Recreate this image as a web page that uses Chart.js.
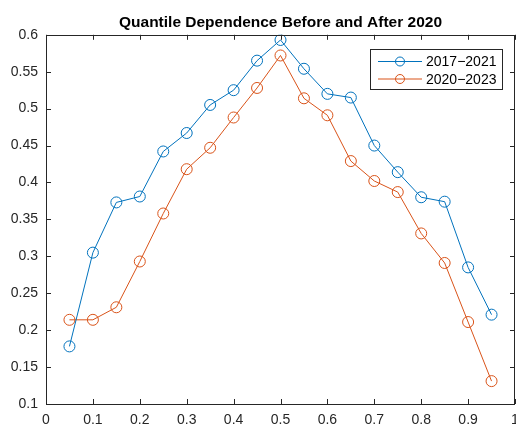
<!DOCTYPE html>
<html lang="en">
<head>
<meta charset="UTF-8">
<title>Quantile Dependence Before and After 2020</title>
<script src="https://cdn.jsdelivr.net/npm/chart.js"></script>
<style>
    html, body { margin: 0; padding: 0; background: #fff; }
    #caixa { width: 516px; height: 428px; }
</style>
</head>
<body>
<div id="caixa"><canvas id="grafico-quantis"></canvas></div>
<script>
    // values
    const quantis = [0.05, 0.10, 0.15, 0.20, 0.25, 0.30, 0.35, 0.40, 0.45, 0.50,
                     0.55, 0.60, 0.65, 0.70, 0.75, 0.80, 0.85, 0.90, 0.95];
    const serie2017 = [0.178, 0.305, 0.373, 0.381, 0.442, 0.467, 0.505, 0.525, 0.565, 0.593,
                       0.554, 0.520, 0.515, 0.450, 0.414, 0.380, 0.374, 0.285, 0.221];
    const serie2020 = [0.214, 0.214, 0.231, 0.293, 0.358, 0.418, 0.447, 0.488, 0.528, 0.572,
                       0.514, 0.491, 0.429, 0.402, 0.387, 0.331, 0.291, 0.211, 0.131];
    const nomesSeries = ['2017\u22122021', '2020\u22122023'];
    const ticksX = [0, 0.1, 0.2, 0.3, 0.4, 0.5, 0.6, 0.7, 0.8, 0.9, 1];
    const ticksY = [0.1, 0.15, 0.2, 0.25, 0.3, 0.35, 0.4, 0.45, 0.5, 0.55, 0.6];

    const corEixo = '#262626';
    const cores = ['#0072BD', '#D95319'];
    const fonte = '"Liberation Sans", Arial, Helvetica, sans-serif';

    function pontos(serie) {
        return quantis.map((q, i) => ({ x: q, y: serie[i] }));
    }

    function formatar(v) {
        return String(+v.toFixed(2));
    }

    // MATLAB style box, inner ticks and legend
    const caixaMatlab = {
        id: 'caixaMatlab',
        afterDraw(chart) {
            const ctx = chart.ctx;
            const a = chart.chartArea;
            const sx = chart.scales.x;
            const sy = chart.scales.y;
            const tam = 5;
            ctx.save();
            ctx.strokeStyle = corEixo;
            ctx.lineWidth = 1;
            ctx.beginPath();
            ticksX.forEach(v => {
                const px = Math.round(sx.getPixelForValue(v)) + 0.5;
                ctx.moveTo(px, a.bottom); ctx.lineTo(px, a.bottom - tam);
                ctx.moveTo(px, a.top); ctx.lineTo(px, a.top + tam);
            });
            ticksY.forEach(v => {
                const py = Math.round(sy.getPixelForValue(v)) + 0.5;
                ctx.moveTo(a.left, py); ctx.lineTo(a.left + tam, py);
                ctx.moveTo(a.right, py); ctx.lineTo(a.right - tam, py);
            });
            ctx.stroke();
            ctx.strokeRect(Math.round(a.left) + 0.5, Math.round(a.top) + 0.5,
                Math.round(a.right - a.left) - 1, Math.round(a.bottom - a.top));

            // legend
            const lx = Math.round(a.right) - 145;
            const ly = Math.round(a.top) + 14;
            const lw = 132, lh = 40;
            ctx.fillStyle = '#fff';
            ctx.fillRect(lx, ly, lw, lh);
            ctx.strokeStyle = corEixo;
            ctx.strokeRect(lx + 0.5, ly + 0.5, lw, lh);
            ctx.font = '14px ' + fonte;
            ctx.textBaseline = 'middle';
            nomesSeries.forEach((nome, i) => {
                const y = ly + 12.5 + i * 17.5;
                ctx.strokeStyle = cores[i];
                ctx.beginPath();
                ctx.moveTo(lx + 8, y); ctx.lineTo(lx + 52, y);
                ctx.stroke();
                ctx.beginPath();
                ctx.arc(lx + 30, y, 4.5, 0, Math.PI * 2);
                ctx.stroke();
                ctx.fillStyle = '#000';
                ctx.fillText(nome, lx + 56, y + 1);
            });
            ctx.restore();
        }
    };

    const conjuntos = [serie2017, serie2020].map((serie, i) => ({
        label: nomesSeries[i],
        data: pontos(serie),
        borderColor: cores[i],
        backgroundColor: 'rgba(0,0,0,0)',
        borderWidth: 1,
        pointRadius: 5.5,
        pointHoverRadius: 5.5,
        pointBorderWidth: 1,
        pointBorderColor: cores[i],
        pointBackgroundColor: 'rgba(0,0,0,0)',
        tension: 0
    }));

    new Chart(document.getElementById('grafico-quantis'), {
        type: 'line',
        data: { datasets: conjuntos },
        options: {
            responsive: true,
            maintainAspectRatio: false,
            animation: false,
            events: [],
            layout: { autoPadding: false, padding: { left: 0, right: 1, top: 0, bottom: 0 } },
            plugins: {
                legend: { display: false },
                tooltip: { enabled: false },
                title: {
                    display: true,
                    fullSize: false,
                    text: 'Quantile Dependence Before and After 2020',
                    color: '#000',
                    font: { family: fonte, size: 15.5, weight: 'bold' },
                    padding: { top: 13, bottom: 3.2 }
                }
            },
            scales: {
                x: {
                    type: 'linear',
                    min: 0,
                    max: 1,
                    afterBuildTicks: s => { s.ticks = ticksX.map(v => ({ value: v })); },
                    afterFit: s => { s.height = 24; s.paddingLeft = 0; s.paddingRight = 0; },
                    grid: { drawOnChartArea: false, drawTicks: false },
                    border: { display: false },
                    ticks: {
                        color: corEixo,
                        font: { family: fonte, size: 14 },
                        padding: 8,
                        maxRotation: 0,
                        autoSkip: false,
                        callback: v => formatar(v)
                    }
                },
                y: {
                    min: 0.1,
                    max: 0.6,
                    afterBuildTicks: s => { s.ticks = ticksY.map(v => ({ value: v })); },
                    afterFit: s => { s.width = 46; s.paddingTop = 0; s.paddingBottom = 0; },
                    grid: { drawOnChartArea: false, drawTicks: false },
                    border: { display: false },
                    ticks: {
                        color: corEixo,
                        font: { family: fonte, size: 14 },
                        padding: 8,
                        autoSkip: false,
                        callback: v => formatar(v)
                    }
                }
            }
        },
        plugins: [caixaMatlab]
    });
</script>
</body>
</html>
